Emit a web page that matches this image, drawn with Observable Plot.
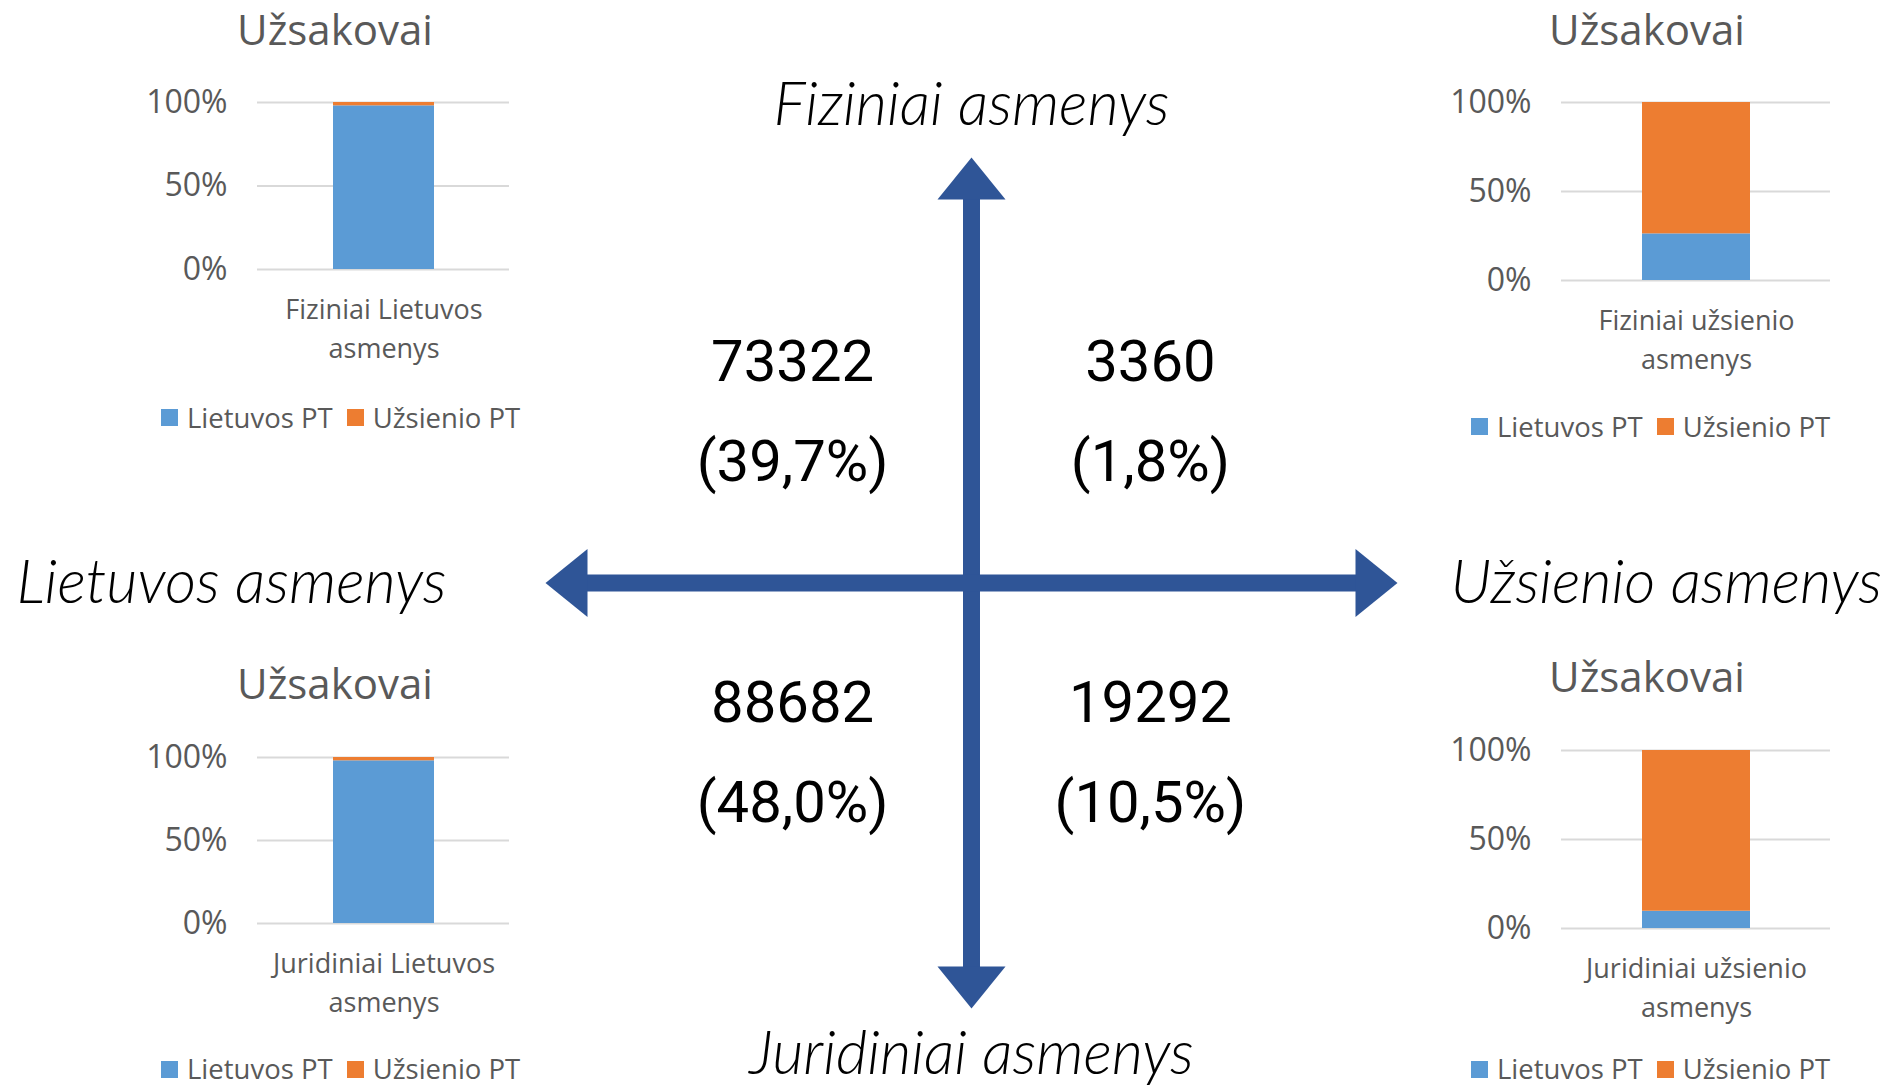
<!DOCTYPE html>
<html>
<head>
<meta charset="utf-8">
<script src="https://cdn.jsdelivr.net/npm/d3@7"></script>
<script src="https://cdn.jsdelivr.net/npm/@observablehq/plot@0.6"></script>
<style>
html, body { margin: 0; padding: 0; background: #fff; }
#page { position: relative; width: 1890px; height: 1089px; overflow: hidden; background: #fff; font-family: "Open Sans", sans-serif; }
.abs { position: absolute; }
.title { font-family: "Open Sans", sans-serif; font-size: 42px; line-height: 56px; color: #595959; text-align: center; width: 400px; white-space: nowrap; }
.legendbox div { margin: 0 !important; min-height: 0 !important; font-family: "Open Sans", sans-serif !important; font-size: 27.5px !important; color: #595959 !important; line-height: 28px !important; flex-wrap: nowrap !important; white-space: nowrap; }
.legendbox span { margin-right: 14px !important; }
.legendbox svg { margin-right: 9px !important; }
</style>
</head>
<body>
<div id="page"></div>
<script>
// ---------- data ----------
const seriesNames = ["Lietuvos PT", "Užsienio PT"];
const seriesColors = ["#5B9BD5", "#ED7D31"];
const chartCategories = ["Fiziniai Lietuvos asmenys", "Fiziniai užsienio asmenys", "Juridiniai Lietuvos asmenys", "Juridiniai užsienio asmenys"];
const lietuvosPT = [0.98, 0.262, 0.98, 0.097];
const uzsienioPT = [0.02, 0.738, 0.02, 0.903];
const chartTitle = "Užsakovai";
const yTicks = [0, 0.5, 1];

const quadrantType = ["Fiziniai", "Fiziniai", "Juridiniai", "Juridiniai"];
const quadrantOrigin = ["Lietuvos", "Užsienio", "Lietuvos", "Užsienio"];
const quadrantCounts = [73322, 3360, 88682, 19292];
const quadrantShares = ["39,7%", "1,8%", "48,0%", "10,5%"];
const axisEndLabels = ["Fiziniai asmenys", "Juridiniai asmenys", "Lietuvos asmenys", "Užsienio asmenys"];

// ---------- layout ----------
const page = document.getElementById("page");
const W = 1890, H = 1089;
const X0 = 545, X1 = 1397, Y0 = 157, Y1 = 1008;
const arrowColor = "#2F5597";

const quads = quadrantCounts.map((c, i) => ({type: quadrantType[i], origin: quadrantOrigin[i], count: c, share: quadrantShares[i]}));
const qx = d => d.origin === "Lietuvos" ? -0.42 : 0.42;
const qy = d => d.type === "Fiziniai" ? 0.4 : -0.4;

const arrowHead = {
  draw(context, size) {
    const r = Math.sqrt(size / Math.PI);
    const len = r * 42 / 34;
    context.moveTo(0, 0);
    context.lineTo(r, len);
    context.lineTo(-r, len);
    context.closePath();
  }
};
const heads = [
  {x: 0, y: 1, rotate: 0},
  {x: 0, y: -1, rotate: 180},
  {x: -1, y: 0, rotate: 270},
  {x: 1, y: 0, rotate: 90}
];
const labelFont = {fontFamily: "Lato, 'Open Sans', sans-serif", fontStyle: "italic", fontWeight: 300, fontSize: 60.5, fill: "#000"};
const numFont = {fontFamily: "Roboto, sans-serif", fontSize: 58, fill: "#000"};

const center = Plot.plot({
  width: W, height: H,
  marginLeft: X0, marginRight: W - X1, marginTop: Y0, marginBottom: H - Y1,
  x: {domain: [-1, 1], axis: null},
  y: {domain: [-1, 1], axis: null},
  style: {background: "transparent", maxWidth: "none", overflow: "visible"},
  marks: [
    Plot.ruleX([0], {y1: -0.93, y2: 0.93, stroke: arrowColor, strokeWidth: 17}),
    Plot.ruleY([0], {x1: -0.93, x2: 0.93, stroke: arrowColor, strokeWidth: 17}),
    Plot.dot(heads, {x: "x", y: "y", rotate: "rotate", symbol: arrowHead, r: 34, fill: arrowColor, stroke: "none"}),
    Plot.text([axisEndLabels[0]], {x: 0, y: 1, text: d => d, lineAnchor: "bottom", dy: -33, ...labelFont}),
    Plot.text([axisEndLabels[1]], {x: 0, y: -1, text: d => d, lineAnchor: "bottom", dy: 65, ...labelFont}),
    Plot.text([axisEndLabels[2]], {x: -1, y: 0, text: d => d, lineAnchor: "bottom", textAnchor: "end", dx: -99, dy: 20, ...labelFont}),
    Plot.text([axisEndLabels[3]], {x: 1, y: 0, text: d => d, lineAnchor: "bottom", textAnchor: "start", dx: 53, dy: 20, ...labelFont}),
    Plot.text(quads, {x: qx, y: qy, text: d => String(d.count), dy: -50, ...numFont}),
    Plot.text(quads, {x: qx, y: qy, text: d => `(${d.share})`, dy: 50, ...numFont})
  ]
});
center.style.position = "absolute";
center.style.left = "0px";
center.style.top = "0px";
page.appendChild(center);

// ---------- small stacked bar charts ----------
const layouts = [
  {fx0: 257, fx1: 509, fy0: 102, fy1: 269, titleCx: 335, titleBase: 45, legX: 161, legCy: 417.5},
  {fx0: 1561, fx1: 1830, fy0: 102, fy1: 280, titleCx: 1647, titleBase: 45, legX: 1471, legCy: 426.5},
  {fx0: 257, fx1: 509, fy0: 757, fy1: 923, titleCx: 335, titleBase: 699, legX: 161, legCy: 1069},
  {fx0: 1561, fx1: 1830, fy0: 750, fy1: 928, titleCx: 1647, titleBase: 692, legX: 1471, legCy: 1069}
];
const mL = 170, mR = 40, mT = 50, mB = 110;

chartCategories.forEach((cat, i) => {
  const L = layouts[i];
  const rows = [
    {cat, series: seriesNames[0], value: lietuvosPT[i]},
    {cat, series: seriesNames[1], value: uzsienioPT[i]}
  ];
  const chart = Plot.plot({
    width: mL + (L.fx1 - L.fx0) + mR,
    height: mT + (L.fy1 - L.fy0) + mB,
    marginLeft: mL, marginRight: mR, marginTop: mT, marginBottom: mB,
    x: {domain: [cat], padding: 0.428, label: null},
    y: {domain: [0, 1], label: null},
    color: {domain: seriesNames, range: seriesColors},
    style: {background: "transparent", maxWidth: "none", overflow: "visible", fontFamily: "'Open Sans', sans-serif", color: "#595959"},
    marks: [
      Plot.gridY(yTicks, {stroke: "#D9D9D9", strokeOpacity: 1, strokeWidth: 2}),
      Plot.barY(rows, {x: "cat", y: "value", fill: "series"}),
      Plot.axisY(yTicks, {tickSize: 0, tickPadding: 30, fontSize: 32, fill: "#595959", label: null, tickFormat: d => Math.round(d * 100) + "%"}),
      Plot.axisX({tickSize: 0, tickPadding: 22, fontSize: 27, lineHeight: 1.45, fill: "#595959", label: null, tickFormat: d => d.replace(/ (\S+)$/, "\n$1")})
    ]
  });
  chart.style.position = "absolute";
  chart.style.left = (L.fx0 - mL) + "px";
  chart.style.top = (L.fy0 - mT) + "px";
  page.appendChild(chart);

  const t = document.createElement("div");
  t.className = "abs title";
  t.textContent = chartTitle;
  t.style.left = (L.titleCx - 200) + "px";
  t.style.top = (L.titleBase - 44) + "px";
  page.appendChild(t);

  const lg = document.createElement("div");
  lg.className = "abs legendbox";
  lg.style.left = L.legX + "px";
  lg.style.top = (L.legCy - 14) + "px";
  lg.appendChild(Plot.legend({color: {domain: seriesNames, range: seriesColors}, legend: "swatches", swatchSize: 17, className: "lg"}));
  page.appendChild(lg);
});
</script>
</body>
</html>
